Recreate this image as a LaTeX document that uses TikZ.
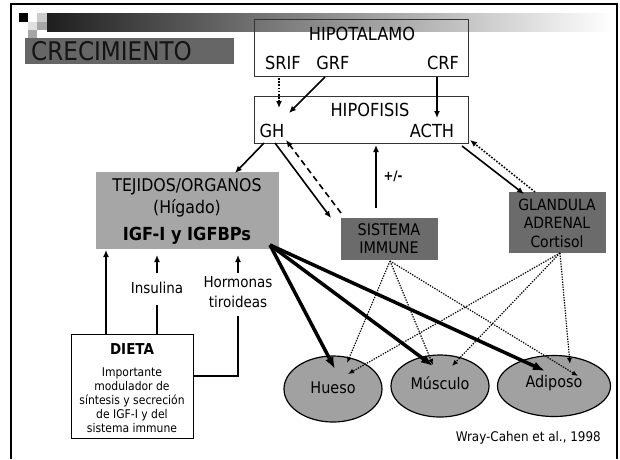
\documentclass[tikz,border=0pt]{standalone}
\usepackage{fontspec}
\setmainfont{DejaVu Sans Condensed}
\usetikzlibrary{arrows.meta,shapes.geometric}
\definecolor{boxlight}{gray}{0.65}
\definecolor{boxdark}{gray}{0.42}
\definecolor{ellfill}{gray}{0.63}
\definecolor{titlebox}{gray}{0.40}
\definecolor{titletext}{gray}{0.08}
\tikzset{
  main/.style={font=\fontsize{16}{19}\selectfont, inner sep=0pt},
  big/.style={font=\fontsize{18}{21}\selectfont, inner sep=0pt},
  mainb/.style={font=\fontsize{18}{21}\selectfont\bfseries, inner sep=0pt},
  small/.style={font=\fontsize{12}{14}\selectfont, inner sep=0pt},
  mid/.style={font=\fontsize{15}{18}\selectfont, inner sep=0pt},
  cite/.style={font=\fontsize{13.3}{15}\selectfont, inner sep=0pt},
  framebox/.style={draw=black!80, line width=0.9pt, inner sep=0pt},
  arr/.style={-{Latex[length=7pt,width=6pt]}, line width=1.6pt},
  dotarr/.style={arr, dash pattern=on 1.6pt off 1.6pt},
  dasharr/.style={arr, dash pattern=on 6pt off 4pt},
  bigarr/.style={-{Latex[length=12pt,width=9pt]}, line width=3.5pt},
  thindot/.style={-{Latex[length=6pt,width=5pt]}, line width=1.2pt, dash pattern=on 1.3pt off 1.3pt},
  organ/.style={ellipse, draw=black, line width=1.2pt, fill=ellfill, inner sep=0pt},
}
\begin{document}
\begin{tikzpicture}[x=1pt,y=-1pt]
\useasboundingbox (0,0) rectangle (620,459);
% slide decoration
\draw[line width=2pt] (11,459) -- (11,4) -- (617,4) -- (617,459);
\shade[left color=black!88, right color=white] (47,13) rectangle (612,31);
\fill[black] (19,13) rectangle (28,22);
\fill[black!20] (37,13) rectangle (47,22);
\fill[black!12] (28,22) rectangle (37,30);
\fill[black!35] (37,22) rectangle (47,30);
\fill[black!35] (28,30) rectangle (37,38);
% title
\fill[titlebox] (25,38) rectangle (234,64);
\node (title) [anchor=west, font=\fontsize{25.7}{30}\selectfont, text=titletext, inner sep=0pt] at (31,51) {CRECIMIENTO};
% hipotalamo
\node (hipot) [framebox, minimum width=214pt, minimum height=57pt, anchor=north west] at (254,19) {};
\node (hipottxt) [big] at (362,34) {HIPOTALAMO};
\node (srif) [big] at (283,63) {SRIF};
\node (grf) [big] at (333,63) {GRF};
\node (crf) [big] at (443,63) {CRF};
% hipofisis
\node (hipof) [framebox, minimum width=214pt, minimum height=47pt, anchor=north west] at (254,96) {};
\node (hipoftxt) [big] at (370,110) {HIPOFISIS};
\node (gh) [big] at (272,131) {GH};
\node (acth) [big] at (432,131) {ACTH};
% tejidos
\node (tej) [fill=boxlight, minimum width=183pt, minimum height=77pt, anchor=north west, inner sep=0pt] at (96,172) {};
\node (tej1) [font=\fontsize{17.5}{21}\selectfont, inner sep=0pt] at (187,187) {TEJIDOS/ORGANOS};
\node (tej2) [font=\fontsize{17.5}{21}\selectfont, inner sep=0pt] at (187,208) {(Hígado)};
\node (tej3) [mainb] at (187,236) {IGF-I y IGFBPs};
% sistema immune
\node (sis) [fill=boxdark, minimum width=97pt, minimum height=42pt, anchor=north west, inner sep=0pt] at (341,218) {};
\node (sis1) [main] at (389,230) {SISTEMA};
\node (sis2) [main] at (389,248) {IMMUNE};
% glandula
\node (gla) [fill=boxdark, minimum width=97pt, minimum height=61pt, anchor=north west, inner sep=0pt] at (509,192) {};
\node (gla1) [font=\fontsize{15.5}{18}\selectfont, inner sep=0pt] at (557,205) {GLANDULA};
\node (gla2) [font=\fontsize{15.5}{18}\selectfont, inner sep=0pt] at (557,223) {ADRENAL};
\node (gla3) [font=\fontsize{15.5}{18}\selectfont, inner sep=0pt] at (557,242) {Cortisol};
% dieta
\node (dieta) [draw=black, line width=1pt, minimum width=122pt, minimum height=104pt, anchor=north west, inner sep=0pt] at (71,334) {};
\node (dietat) [font=\fontsize{15}{18}\selectfont\bfseries, inner sep=0pt] at (132,349) {DIETA};
\node (dietad) [small, align=center, font=\fontsize{12}{14}\selectfont] at (132,400) {Importante\\modulador de\\síntesis y secreción\\de IGF-I y del\\sistema immune};
% side labels
\node (ins) [mid] at (157,288) {Insulina};
\node (hor) [mid, align=center, font=\fontsize{15}{20}\selectfont] at (238,292) {Hormonas\\tiroideas};
% organs
\node (hueso) [organ, minimum width=98pt, minimum height=66pt] at (333,389) {};
\node (huesot) [main] at (333,388) {Hueso};
\node (musc) [organ, minimum width=98pt, minimum height=62pt] at (440,386) {};
\node (musct) [main] at (440,383) {Músculo};
\node (adip) [organ, minimum width=113pt, minimum height=61pt] at (554,386) {};
\node (adipt) [main] at (554,383) {Adiposo};
% citation
\node (cite) [cite, anchor=east] at (601,438) {Wray-Cahen et al., 1998};
% coordinates
\coordinate (srifB) at (279,78);
\coordinate (ghT) at (279,108);
\coordinate (grfB) at (325,77);
\coordinate (ghR) at (289,113);
\coordinate (crfB) at (437,77);
\coordinate (acthT) at (437,118);
\coordinate (ghB1) at (264,143);
\coordinate (tejT) at (235,173);
\coordinate (ghB2) at (275,143);
\coordinate (sisTL) at (331,218);
\coordinate (sisTL2) at (341,213);
\coordinate (ghB3) at (286,140);
\coordinate (sisT) at (376,208);
\coordinate (hipofB) at (376,145);
\coordinate (acthB) at (462,146);
\coordinate (glaTL) at (524,194);
\coordinate (glaT) at (535,192);
\coordinate (hipofC) at (470,140);
\coordinate (igf) at (270,245);
\coordinate (huesoT) at (335,369);
\coordinate (muscT) at (433,366);
\coordinate (adipT) at (545,371);
\coordinate (sisB) at (390,261);
\coordinate (glaB) at (560,253);
% arrows hipotalamo/hipofisis
\draw[dotarr] (srifB) -- (ghT);
\draw[arr] (grfB) -- (ghR);
\draw[arr] (crfB) -- (acthT);
\draw[arr] (ghB1) -- (tejT);
\draw[arr] (ghB2) -- (sisTL);
\draw[dasharr] (sisTL2) -- (ghB3);
\draw[arr] (sisT) -- (hipofB);
\node (pm) [font=\fontsize{13}{15}\selectfont\bfseries, inner sep=0pt] at (393,176) {+/-};
\draw[arr] (acthB) -- (glaTL);
\draw[dotarr] (glaT) -- (hipofC);
% dieta arrows
\draw[arr] (dieta.north west -| 106,0) -- (106,250);
\draw[line width=1.6pt] (dieta.north west -| 157,0) -- (157,305);
\draw[arr] (157,273) -- (157,255);
\draw[line width=1.6pt] (dieta.east |- 0,376) -- (238,376) -- (238,316);
\draw[arr] (238,273) -- (238,255);
% IGF arrows
\draw[bigarr] (igf) -- (huesoT);
\draw[bigarr] (igf) -- (muscT);
\draw[bigarr] (igf) -- (adipT);
% dotted effects
\draw[thindot] (sisB) -- (347,363);
\draw[thindot] (sisB) -- (433,365);
\draw[thindot] (sisB) -- (578,376);
\draw[thindot] (glaB) -- (348,374);
\draw[thindot] (glaB) -- (452,366);
\draw[thindot] (glaB) -- (570,364);
\end{tikzpicture}
\end{document}
